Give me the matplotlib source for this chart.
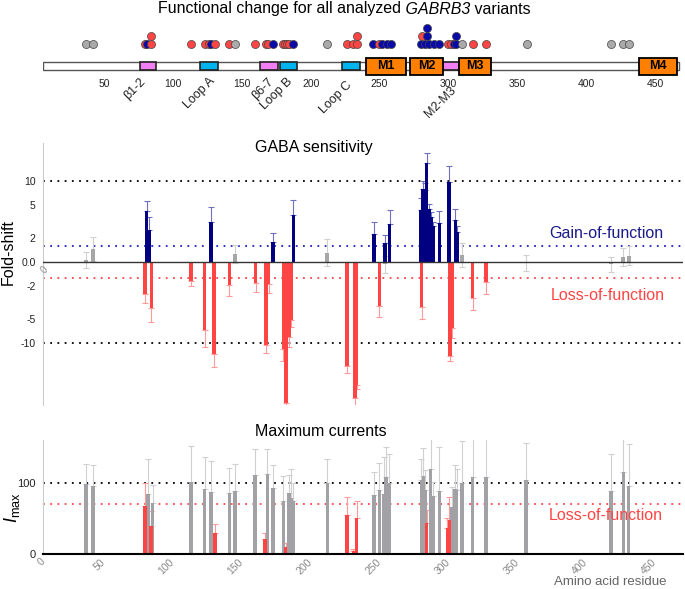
import numpy as np
import matplotlib
matplotlib.use('Agg')
import matplotlib.pyplot as plt
from matplotlib.patches import Rectangle

plt.rcParams['font.family'] = ['Liberation Sans', 'DejaVu Sans']
plt.rcParams['mathtext.fontset'] = 'custom'
plt.rcParams['mathtext.rm'] = 'Liberation Sans'
plt.rcParams['mathtext.it'] = 'Liberation Sans:italic'

RED = '#ff4444'
BLUE = '#000080'
GRAY = '#a6a6a6'
RED_ERR = '#ff9a9a'
BLUE_ERR = '#7070c0'
GRAY_ERR = '#d0d0d0'

# ---- protein domains (residue ranges)
dom_names = ['β1-2', 'Loop A', 'β6-7', 'Loop B', 'Loop C', 'M1', 'M2', 'M2-M3', 'M3', 'M4']
dom_start = [76, 120, 163, 178, 223, 240, 272, 296, 308, 438]
dom_end = [88, 133, 176, 190, 236, 269, 296, 308, 331, 466]
dom_kind = ['p', 'c', 'p', 'c', 'c', 'tm', 'tm', 'p', 'tm', 'tm']

# ---- variant dots (residue, stack level, class)
dot_res = [37, 42, 80, 81.5, 84, 84, 113.5, 123.4, 126.5, 127.7, 130.6, 140.6, 145,
           159.7, 167.4, 169, 172.5, 180.2, 181.6, 183.1, 184.6, 187.2, 212,
           226.4, 231, 233.7, 233.7, 245.5, 249.5, 251.5, 255.2, 258.3,
           280, 283, 286, 289.5, 293.4, 280.6, 284.3, 284.5,
           300, 301.8, 304, 305.5, 305.4, 310.1, 318, 327.3, 356.8, 418, 426.5, 431]
dot_lvl = [0, 0, 0, 0, 0, 1, 0, 0, 0, 0, 0, 0, 0,
           0, 0, 0, 0, 0, 0, 0, 0, 0, 0,
           0, 0, 0, 1, 0, 0, 0, 0, 0,
           0, 0, 0, 0, 0, 1, 1, 2,
           0, 0, 0, 0, 1, 0, 0, 0, 0, 0, 0, 0]
dot_cls = ['g', 'g', 'r', 'b', 'r', 'r', 'r', 'r', 'r', 'b', 'r', 'r', 'g',
           'r', 'r', 'r', 'b', 'r', 'r', 'r', 'r', 'b', 'g',
           'r', 'r', 'r', 'r', 'b', 'r', 'b', 'b', 'b',
           'b', 'b', 'b', 'b', 'b', 'r', 'b', 'b',
           'r', 'r', 'b', 'b', 'b', 'g', 'r', 'r', 'g', 'g', 'g', 'g']
dot_colors = {'g': '#aaaaaa', 'r': '#ff4444', 'b': '#0a0aa8'}

# ---- GABA sensitivity, log10 fold-shift (sign = gain/loss)
gray_gaba_res = [37, 42, 145, 212, 254, 310, 356, 418, 426.5, 431]
gray_gaba_val = [0.02, 0.16, 0.095, 0.115, -0.03, 0.09, -0.01, -0.03, 0.065, 0.08]
gray_gaba_err = [0.10, 0.15, 0.11, 0.17, 0.11, 0.15, 0.095, 0.09, 0.11, 0.12]

blue_res = [81, 83, 127.5, 172.5, 187.5, 246, 254, 257.3, 280, 281.4, 282.8, 284.2,
            285.7, 287.2, 289.1, 293.5, 300.2, 305, 306.5]
blue_val = [0.63, 0.40, 0.49, 0.25, 0.58, 0.35, 0.23, 0.47, 0.64, 0.90, 0.89, 1.22,
            0.66, 0.55, 0.44, 0.485, 0.99, 0.52, 0.37]
blue_err = [0.12, 0.15, 0.19, 0.11, 0.19, 0.15, 0.10, 0.17, 0.15, 0.10, 0.09, 0.13,
            0.06, 0.07, 0.06, 0.145, 0.20, 0.13, 0.08]

red_res = [80, 84.4, 113.4, 123.1, 129.9, 141, 160, 167.6, 169.5, 180.2, 182.1, 184.1,
           186, 226.2, 232, 233.4, 249.9, 280.6, 301.2, 302.6, 317.6, 327.3]
red_val = [-0.40, -0.57, -0.235, -0.84, -1.13, -0.284, -0.26, -1.02, -0.27, -1.07, -1.74, -0.93,
           -0.72, -1.28, -1.68, -1.52, -0.54, -0.56, -1.16, -0.82, -0.45, -0.25]
red_err = [0.10, 0.17, 0.065, 0.21, 0.16, 0.14, 0.11, 0.10, 0.11, 0.15, 0.08, 0.12,
           0.08, 0.09, 0.14, 0.05, 0.14, 0.14, 0.06, 0.12, 0.14, 0.14]

# ---- maximum currents (% of WT)
imax_gray_res = [37, 42, 82, 85.4, 113.4, 123.1, 127.5, 141, 145, 159.6, 168.6, 172.5,
                 180.2, 184.1, 185.6, 187, 212.1, 246, 249.9, 253.3, 254.7, 256.7,
                 280.4, 281.8, 283.2, 287.1, 288.6, 293.4, 302.6, 304.6, 306, 310,
                 317.6, 327.3, 356.3, 418, 427, 430.8]
imax_gray_val = [97.7, 95.4, 83.7, 71, 101, 90.7, 87.4, 86, 88.4, 111, 112.7, 92,
                 75, 85.5, 78, 75, 100, 83, 90, 84, 108.5, 100,
                 104, 109.4, 90, 119, 81.4, 89, 65.5, 91.6, 90, 100,
                 108.5, 108, 104, 88.4, 115.5, 95.4]
imax_gray_err = [29, 30, 50, 26, 50, 46, 43, 35, 38, 37, 34, 33,
                 35, 26, 42, 25, 33, 32, 38, 52, 41.5, 40,
                 29, 39, 28, 48, 20, 61, 28, 34, 30, 59,
                 62.5, 57, 52, 52, 60, 59]

imax_red_res = [80, 84, 130.4, 167.1, 181.9, 226.6, 231, 233.4, 284.2, 299.2, 300.7]
imax_red_val = [67, 40, 29.5, 21, 9.4, 55, 4, 50.5, 43, 36, 47.7]
imax_red_err = [32, 20, 13, 9, 5.6, 25, 3, 23.5, 19, 14, 32]

fold_ticks = [10, 5, 2]
res_ticks = [50, 100, 150, 200, 250, 300, 350, 400, 450]

W_PX, H_PX = 685, 589
fig = plt.figure(figsize=(W_PX / 100, H_PX / 100), dpi=100)


def fx(px):
    return px / W_PX


def fy(py):
    return 1 - py / H_PX


XMIN, XMAX = 5.5, 470
left, right = 42.6, 682.7
axw = fx(right) - fx(left)

# ================= top: domain map + dots
ax0 = fig.add_axes([fx(left), fy(76), axw, 56 / H_PX])
ax0.set_xlim(XMIN, XMAX)
ax0.set_ylim(-10, 46)
for s in ax0.spines.values():
    s.set_visible(False)
ax0.set_yticks([])
ax0.set_xticks(res_ticks)
ax0.tick_params(axis='x', length=0, pad=2, labelsize=7.5, labelcolor='#222222')

ax0.add_patch(Rectangle((6, -4.2), 461, 8.4, facecolor='white', edgecolor='#555555', lw=1, zorder=1))
for name, s, e, k in zip(dom_names, dom_start, dom_end, dom_kind):
    if k == 'tm':
        ax0.add_patch(Rectangle((s, -8.5), e - s, 17, facecolor='#ff8000', edgecolor='black', lw=1.3, zorder=3))
        ax0.text((s + e) / 2, 0, name, ha='center', va='center', fontsize=9, fontweight='bold', zorder=4)
    else:
        fc = '#f27ff2' if k == 'p' else '#00b4ef'
        ax0.add_patch(Rectangle((s, -4.2), e - s, 8.4, facecolor=fc, edgecolor='#222222', lw=1.2, zorder=2))

lab_names = ['β1-2', 'Loop A', 'β6-7', 'Loop B', 'Loop C', 'M2-M3']
lab_x = [82, 132, 175, 188.5, 232, 307]
lab_top = [76, 75, 76, 76, 79, 84]
for n, x, t in zip(lab_names, lab_x, lab_top):
    ax0.text(x, 66 - t, n, rotation=45, ha='right', va='top', fontsize=9, color='#222222')

for r, l, c in zip(dot_res, dot_lvl, dot_cls):
    ax0.plot(r, 22 + 7.8 * l, 'o', ms=5.8, mfc=dot_colors[c], mec='#444444', mew=0.5, zorder=5)

# title with italic gene name
tA = fig.text(fx(158), fy(9), 'Functional change for all analyzed', ha='left', va='center', fontsize=11.5)
tB = ax0.annotate(' GABRB3', xy=(1, 0), xycoords=tA, ha='left', va='bottom', fontsize=11.5,
                  style='italic', annotation_clip=False)
ax0.annotate(' variants', xy=(1, 0), xycoords=tB, ha='left', va='bottom', fontsize=11.5,
             annotation_clip=False)

# ================= middle: GABA sensitivity
ax1 = fig.add_axes([fx(left), fy(405), axw, 262 / H_PX])
ax1.set_xlim(XMIN, XMAX)
ax1.set_ylim(-1.765, 1.469)
for s in ['top', 'right', 'bottom']:
    ax1.spines[s].set_visible(False)
ax1.spines['left'].set_color('#cccccc')
ax1.set_xticks([])
lt = np.log10(fold_ticks)
ax1.set_yticks(list(lt) + [0] + list(-lt))
ax1.set_yticklabels([str(v) for v in fold_ticks] + ['0.0'] + ['-' + str(v) for v in fold_ticks])
ax1.tick_params(axis='y', length=0, pad=5, labelsize=7.5, labelcolor='#222222')

dot = (0, (1, 3))
ax1.axhline(1, color='black', ls=dot, lw=1.3, zorder=0)
ax1.axhline(-1, color='black', ls=dot, lw=1.3, zorder=0)
ax1.axhline(0.2, color='#2020c0', ls=dot, lw=1.3, zorder=0)
ax1.axhline(-0.2, color='#ff4444', ls=dot, lw=1.3, zorder=0)

bw = 2.6
ax1.errorbar(gray_gaba_res, gray_gaba_val, yerr=gray_gaba_err, fmt='none', ecolor=GRAY_ERR,
             elinewidth=0.8, capsize=2, capthick=0.8, zorder=1)
ax1.bar(gray_gaba_res, gray_gaba_val, width=bw, color=GRAY, lw=0, zorder=2)
ax1.errorbar(blue_res, blue_val, yerr=[np.zeros(len(blue_err)), blue_err], fmt='none',
             ecolor=BLUE_ERR, elinewidth=0.8, capsize=2, capthick=0.8, zorder=1)
ax1.bar(blue_res, blue_val, width=bw, color=BLUE, lw=0, zorder=2)
ax1.errorbar(red_res, red_val, yerr=[red_err, np.zeros(len(red_err))], fmt='none',
             ecolor=RED_ERR, elinewidth=0.8, capsize=2, capthick=0.8, zorder=1)
ax1.bar(red_res, red_val, width=bw, color=RED, lw=0, zorder=2)
ax1.axhline(0, color='#333333', lw=1, zorder=3)

fig.text(fx(314), fy(148), 'GABA sensitivity', ha='center', va='center', fontsize=11.5)
fig.text(fx(606), fy(233), 'Gain-of-function', ha='center', va='center', fontsize=11.5, color='#1a1a8a')
fig.text(fx(608), fy(295), 'Loss-of-function', ha='center', va='center', fontsize=11.5, color='#ff4444')
fig.text(fx(8), fy(252), 'Fold-shift', rotation=90, ha='center', va='center', fontsize=11.5)
fig.text(fx(44), fy(270), '0', rotation=45, ha='center', va='center', fontsize=7, color='#888888')

# ================= bottom: maximum currents
ax2 = fig.add_axes([fx(left), fy(554), axw, 114 / H_PX])
ax2.set_xlim(XMIN, XMAX)
ax2.set_ylim(0, 160)
for s in ['top', 'right']:
    ax2.spines[s].set_visible(False)
ax2.spines['left'].set_color('#cccccc')
ax2.spines['bottom'].set_linewidth(1.5)
ax2.spines['bottom'].set_zorder(5)
ax2.set_yticks([0, 100])
ax2.tick_params(axis='y', length=0, pad=5, labelsize=8, labelcolor='#222222')
ax2.set_xticks(res_ticks)
ax2.set_xticklabels([str(v) for v in res_ticks], rotation=45, ha='right', va='center',
                    rotation_mode='anchor', fontsize=7.5, color='#888888')
ax2.tick_params(axis='x', length=0, pad=5)

ax2.axhline(100, color='black', ls=dot, lw=1.3, zorder=0)
ax2.axhline(70, color='#ff4444', ls=dot, lw=1.3, zorder=0)

ax2.errorbar(imax_gray_res, imax_gray_val, yerr=[np.zeros(len(imax_gray_err)), imax_gray_err],
             fmt='none', ecolor=GRAY_ERR, elinewidth=0.8, capsize=2, capthick=0.8, zorder=1)
ax2.bar(imax_gray_res, imax_gray_val, width=bw, color='#a2a2a6', lw=0, zorder=2)
ax2.errorbar(imax_red_res, imax_red_val, yerr=[np.zeros(len(imax_red_err)), imax_red_err],
             fmt='none', ecolor=RED_ERR, elinewidth=0.8, capsize=2, capthick=0.8, zorder=1)
ax2.bar(imax_red_res, imax_red_val, width=bw, color=RED, lw=0, zorder=3)

fig.text(fx(321), fy(432), 'Maximum currents', ha='center', va='center', fontsize=11.5)
fig.text(fx(606), fy(516), 'Loss-of-function', ha='center', va='center', fontsize=11.5, color='#ff4444')
fig.text(fx(12), fy(508), r'$I_{\mathrm{max}}$', rotation=90, ha='center', va='center', fontsize=13)
fig.text(fx(42), fy(562), '0', rotation=45, ha='center', va='center', fontsize=7.5, color='#888888')
fig.text(fx(610), fy(582), 'Amino acid residue', ha='center', va='center', fontsize=9.5, color='#666666')

fig.savefig('out.png', dpi=100)
